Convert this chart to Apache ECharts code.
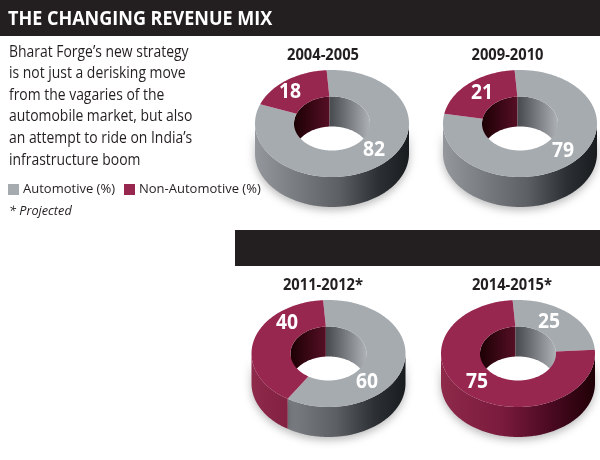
<!DOCTYPE html>
<html><head><meta charset="utf-8">
<style>html,body{margin:0;padding:0;background:#fff}#c{width:600px;height:460px}</style>
<script src="https://cdn.jsdelivr.net/npm/echarts@6/dist/echarts.min.js"></script>
</head><body><div id="c"></div>
<script>
const periods = ['2004-2005', '2009-2010', '2011-2012*', '2014-2015*'];
const automotive = [82, 79, 60, 25];
const nonAutomotive = [18, 21, 40, 75];
const introLines = ['Bharat Forge\u2019s new strategy', 'is not just a derisking move', 'from the vagaries of the', 'automobile market, but also', 'an attempt to ride on India\u2019s', 'infrastructure boom'];

// layout only
const FONT = '"Open Sans", "Noto Sans", sans-serif';
const centres = [[332, 123.5], [520, 123.5], [328.5, 353.5], [518, 353.5]];
const titleAt = [[323, 55], [507.5, 55], [323, 285], [512, 285]];
const autoLabelAt = [[374, 150], [563, 151], [367, 382], [549, 322]];
const nonLabelAt = [[290, 92], [482, 93], [287, 323], [477, 382]];
const RX = 77, RY = 53.5, HX = 38, HY = 27, DEPTH = 30, START = -4;

const GREY = '#a6abb0', RED = '#98274f';
const wallStops = {
  grey: [[0, '#94989c'], [0.3, '#75797d'], [0.55, '#5c6064'], [0.8, '#2c3034'], [1, '#191c1f']],
  red: [[0, '#8e2a4a'], [0.4, '#7a1a3c'], [0.7, '#4c0a22'], [1, '#1f0006']]
};
const holeStops = {
  grey: [[0, '#17191b'], [0.5, '#4c5054'], [1, '#aeb2b6']],
  red: [[0, '#1c0004'], [0.5, '#5a1028'], [1, '#7a1a3c']]
};
function grad(x0, x1, stops) {
  return new echarts.graphic.LinearGradient(x0, 0, x1, 0,
    stops.map(s => ({ offset: s[0], color: s[1] })), true);
}
function pt(c, rx, ry, deg, dy) {
  const t = deg * Math.PI / 180;
  return [c[0] + rx * Math.sin(t), c[1] - ry * Math.cos(t) + (dy || 0)];
}
function arc(c, rx, ry, a, b, dy) {
  const n = Math.max(2, Math.ceil(Math.abs(b - a))), out = [];
  for (let i = 0; i <= n; i++) out.push(pt(c, rx, ry, a + (b - a) * i / n, dy));
  return out;
}
function clip(a, b, lo, hi) {
  const res = [];
  for (let k = -2; k <= 2; k++) {
    const p = Math.max(a, lo + 360 * k), q = Math.min(b, hi + 360 * k);
    if (q > p) res.push([p, q]);
  }
  return res;
}
function renderer(kind, labelAt) {
  return function (params, api) {
    const i = api.value(0), v = api.value(1), c = centres[i];
    const sweep = v * 3.6;
    const a = kind === 'grey' ? START : START - sweep;
    const b = kind === 'grey' ? START + sweep : START;
    const children = [];
    clip(a, b, 90, 270).forEach(r => {
      children.push({
        type: 'polygon', z2: 1,
        shape: { points: arc(c, RX, RY, r[0], r[1]).concat(arc(c, RX, RY, r[1], r[0], DEPTH)) },
        style: { fill: grad(c[0] - RX, c[0] + RX, wallStops[kind]),
          shadowBlur: 8, shadowOffsetY: 3, shadowColor: 'rgba(0,0,0,0.28)' }
      });
    });
    // the hole's back wall is split at the top boundary, as in the source artwork
    const wall = kind === 'grey' ? [START, 90] : [-90, START];
    children.push({
      type: 'polygon', z2: 2,
      shape: { points: arc(c, HX, HY, wall[0], wall[1]).concat(arc(c, HX, HY, wall[1], wall[0], DEPTH)) },
      style: { fill: grad(c[0] - HX, c[0] + HX, holeStops[kind]) }
    });
    children.push({
      type: 'polygon', z2: 3,
      shape: { points: arc(c, RX, RY, a, b).concat(arc(c, HX, HY, b, a)) },
      style: { fill: kind === 'grey' ? GREY : RED }
    });
    children.push({
      type: 'text', z2: 4, x: labelAt[i][0], y: labelAt[i][1], scaleX: 0.92,
      style: { text: String(v), fill: '#fff', font: 'bold 21px ' + FONT, align: 'center', verticalAlign: 'middle' }
    });
    return { type: 'group', children };
  };
}
const graphics = [
  { type: 'rect', z: -1, shape: { x: 0, y: 0, width: 600, height: 36 }, style: { fill: '#231f20' } },
  { type: 'rect', z: -1, shape: { x: 235, y: 230, width: 365, height: 36 }, style: { fill: '#231f20' } },
  { type: 'text', x: 8, y: 19, scaleX: 0.9, style: { text: 'THE CHANGING REVENUE MIX', fill: '#fff', font: 'bold 20px ' + FONT, verticalAlign: 'middle' } },
  { type: 'text', x: 9, y: 211, scaleX: 0.94, style: { text: '* Projected', fill: '#231f20', font: 'italic 13.5px ' + FONT, verticalAlign: 'middle' } }
];
introLines.forEach((t, i) => graphics.push({
  type: 'text', x: 9, y: 52 + i * 21.6, scaleX: 0.87,
  style: { text: t, fill: '#231f20', font: '16px ' + FONT, verticalAlign: 'middle' }
}));
periods.forEach((t, i) => graphics.push({
  type: 'text', x: titleAt[i][0], y: titleAt[i][1], scaleX: 0.92,
  style: { text: t, fill: '#231f20', font: 'bold 16px ' + FONT, align: 'center', verticalAlign: 'middle' }
}));

const chart = echarts.init(document.getElementById('c'), null, { renderer: 'canvas' });
chart.setOption({
  animation: false,
  backgroundColor: '#fff',
  graphic: graphics,
  legend: {
    left: 8, top: 183, itemWidth: 11, itemHeight: 11, itemGap: 9, icon: 'rect',
    textStyle: { fontFamily: FONT, fontSize: 13, color: '#231f20', padding: [0, 0, 0, -1] },
    padding: 0,
    data: ['Automotive (%)', 'Non-Automotive (%)']
  },
  series: [
    { type: 'custom', name: 'Automotive (%)', coordinateSystem: 'none', itemStyle: { color: GREY },
      renderItem: renderer('grey', autoLabelAt), data: automotive.map((v, i) => [i, v]) },
    { type: 'custom', name: 'Non-Automotive (%)', coordinateSystem: 'none', itemStyle: { color: RED },
      renderItem: renderer('red', nonLabelAt), data: nonAutomotive.map((v, i) => [i, v]) }
  ]
});
</script></body></html>
